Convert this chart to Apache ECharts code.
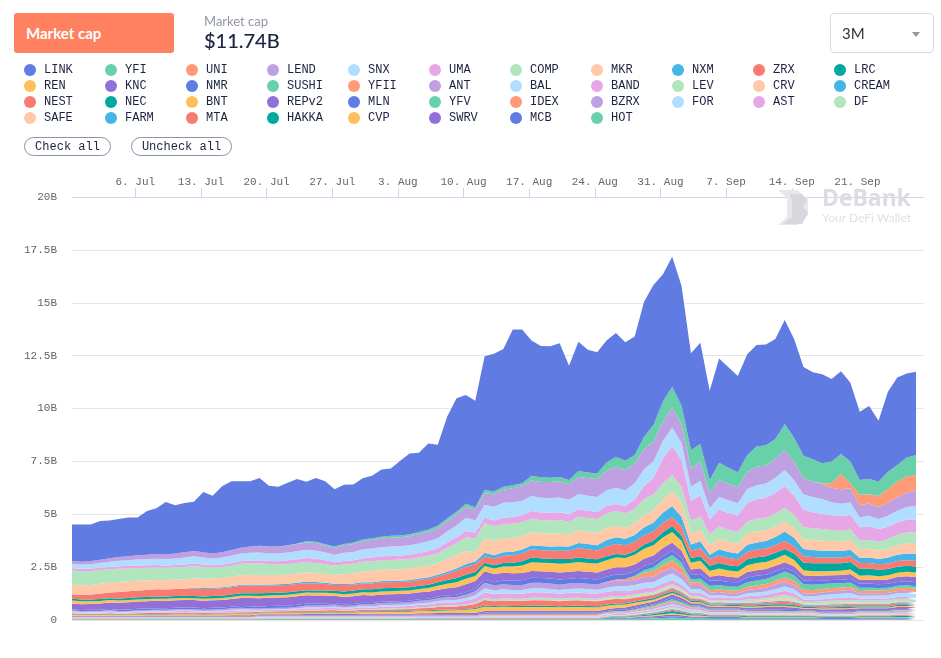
<!DOCTYPE html>
<html>
<head>
<meta charset="utf-8">
<title>Market cap</title>
<script src="https://cdn.jsdelivr.net/npm/echarts@6/dist/echarts.min.js"></script>
<style>
body { margin: 0; background: #fff; font-family: Lato, sans-serif; }
#showChart { position: absolute; left: 0; top: 0; width: 941px; height: 658px; }
.tab { position: absolute; left: 14px; top: 13px; width: 148px; height: 40px; padding-left: 12px; line-height: 40px; background: #ff8160; border-radius: 3px; color: #fff; font-weight: 700; font-size: 15px; }
.capTitle { position: absolute; left: 204px; top: 13px; font-size: 13px; color: #8f96a8; }
.capValue { position: absolute; left: 204px; top: 28px; font-size: 20px; color: #1c2340; -webkit-text-stroke: 0.2px #1c2340; }
.range { position: absolute; left: 830px; top: 13px; width: 102px; height: 38px; border: 1px solid #d8dbe0; border-radius: 4px; line-height: 38px; font-size: 15px; color: #333; text-indent: 11px; }
.range i { position: absolute; left: 81px; top: 18px; border: 4px solid transparent; border-top: 5px solid #9096a6; border-bottom: 0; }
.btn { position: absolute; top: 137px; height: 17px; border: 1px solid #8c93a8; border-radius: 10px; font: 12px/19px "Liberation Mono", monospace; color: #1c2340; text-align: center; }
</style>
</head>
<body>
<div id="showChart"></div>
<div class="tab">Market cap</div>
<div class="capTitle">Market cap</div>
<div class="capValue">$11.74B</div>
<div class="range">3M<i></i></div>
<div class="btn" style="left:24px;width:85px">Check all</div>
<div class="btn" style="left:131px;width:99px">Uncheck all</div>
<script>
// values are in hundredths of a billion dollars, one per day from 29 Jun
var LINK = [173,176,172,183,178,180,183,179,206,216,248,228,233,233,285,273,312,325,314,308,320,288,283,295,305,282,301,298,271,281,275,289,296,318,318,353,382,375,406,383,481,536,514,504,632,652,651,737,728,640,620,621,632,540,612,581,573,577,585,560,560,638,662,602,615,566,457,479,422,492,475,456,476,480,477,473,491,467,419,411,421,389,391,373,323,344,288,378,413,398,394];
var YFI = [0,0,0,0,0,0,0,0,0,0,0,0,0,0,0,0,0,0,0,0,1,1,1,2,3,5,6,6,6,6,7,8,8,9,9,9,9,10,11,12,12,13,14,14,15,14,14,14,14,22,22,21,21,20,28,26,26,39,47,45,40,58,79,95,98,88,87,84,60,82,76,71,79,95,95,95,123,113,106,105,95,103,95,102,70,74,68,82,78,90,95];
var UNI = [0,0,0,0,0,0,0,0,0,0,0,0,0,0,0,0,0,0,0,0,0,0,0,0,0,0,0,0,0,0,0,0,0,0,0,0,0,0,0,0,0,0,0,0,0,0,0,0,0,0,0,0,0,0,0,0,0,0,0,0,0,0,0,0,0,0,0,0,0,0,0,0,0,0,0,0,0,0,0,0,3,22,72,24,49,43,52,66,74,76,74];
var LEND = [14,14,15,16,17,18,19,20,21,22,22,23,24,25,24,24,25,27,28,30,31,31,32,33,34,35,35,33,32,35,37,39,40,41,42,42,43,44,45,47,50,52,52,47,55,58,62,66,68,74,75,75,76,74,80,84,86,93,100,96,94,96,92,92,95,88,87,90,74,80,78,75,82,88,86,88,95,88,78,74,71,68,68,67,58,58,57,60,64,68,72];
var SNX = [20,20,21,22,24,26,27,28,29,30,30,31,33,34,33,32,33,35,36,37,37,36,36,37,38,39,39,37,36,39,40,42,43,43,44,44,44,45,46,47,52,56,62,60,60,64,70,70,69,71,70,70,70,68,72,71,70,75,76,74,76,80,78,82,87,80,66,69,52,60,60,58,65,66,67,71,76,72,71,71,71,62,60,58,47,50,47,52,56,60,63];
var UMA = [11,11,11,11,11,12,12,12,12,12,11,11,12,12,12,11,11,12,12,13,14,14,15,17,18,20,20,18,15,16,16,16,17,18,19,19,20,21,22,24,26,28,31,27,27,28,30,32,33,35,36,36,36,35,36,34,34,34,32,34,44,62,80,118,137,128,96,99,71,80,80,78,88,92,94,98,102,94,82,76,71,70,68,70,63,63,60,58,58,60,61];
var COMP = [68,67,66,65,63,62,61,60,60,59,59,58,58,58,56,52,52,53,54,54,55,52,50,50,49,48,47,46,45,47,46,47,47,46,46,46,46,46,47,47,52,57,66,65,71,70,68,67,66,65,62,63,64,60,64,65,65,70,71,68,70,76,74,76,79,75,59,63,50,58,56,54,58,60,60,62,66,60,58,56,55,52,50,50,39,42,41,46,50,53,55];
var MKR = [44,45,46,47,47,48,47,46,45,44,44,44,44,44,44,43,44,44,45,46,46,45,44,44,44,43,43,42,42,46,48,51,52,53,54,54,54,54,55,55,60,62,60,43,69,67,66,65,63,61,60,60,60,58,60,58,58,56,55,52,54,56,58,62,68,66,52,55,47,50,49,48,52,52,50,49,47,46,46,47,47,46,46,46,43,42,40,42,44,46,47];
var NXM = [0,0,0,0,0,0,0,0,0,0,0,0,0,4,5,5,5,5,5,5,5,5,5,5,6,8,7,6,5,5,5,5,6,6,6,6,7,7,7,8,9,11,13,14,17,15,16,17,18,20,20,20,21,20,24,24,25,30,32,30,32,38,42,48,52,46,28,33,20,30,28,27,33,34,36,38,44,40,34,33,32,31,30,30,24,26,25,28,30,32,33];
var ZRX = [22,22,23,25,27,30,32,33,33,34,34,34,34,35,35,35,35,35,36,36,36,35,35,35,34,33,33,30,28,30,28,28,28,28,27,27,27,27,28,28,30,34,38,36,30,32,34,35,37,39,38,38,40,38,44,44,42,46,47,45,45,44,44,44,43,42,36,37,32,35,34,33,36,36,36,37,38,35,31,30,28,28,28,28,28,27,26,26,27,27,27];
var LRC = [8,8,8,9,9,10,10,10,10,10,10,10,11,11,11,11,11,11,11,12,12,12,12,12,12,11,11,11,11,13,14,14,15,15,15,15,15,15,16,16,18,20,19,19,16,16,17,18,20,22,21,21,22,21,22,21,20,19,16,16,17,20,22,25,28,26,22,22,24,26,25,25,28,28,28,28,28,30,36,38,38,36,35,35,32,32,31,30,29,28,28];
var REN = [14,14,13,12,11,11,10,10,10,10,10,10,10,9,9,9,10,10,11,11,11,11,11,12,12,13,13,13,12,13,13,13,14,14,14,15,15,16,17,19,21,24,26,24,25,26,30,32,36,41,40,41,42,40,42,42,42,44,47,44,45,47,48,50,50,46,32,35,27,32,30,28,32,34,33,34,35,30,24,22,20,20,20,21,20,19,18,19,20,21,22];
var KNC = [28,28,28,30,31,33,34,34,35,35,35,35,35,35,35,35,35,36,38,39,40,39,39,40,40,39,39,37,35,36,36,36,36,35,35,34,34,33,33,32,34,36,38,36,40,38,36,35,34,32,32,32,33,33,33,33,33,34,34,33,34,35,36,38,39,36,26,28,20,24,24,23,26,26,27,27,26,25,24,24,24,23,23,24,18,20,20,21,23,24,25];
var NMR = [5,5,5,5,6,6,7,7,7,7,7,7,7,8,8,8,8,8,8,9,9,9,9,9,9,9,9,8,7,7,7,6,6,6,6,7,7,7,8,8,9,10,12,12,14,15,18,20,22,24,23,23,24,22,24,24,24,24,24,22,20,20,20,20,20,20,20,22,24,22,22,21,22,22,20,19,18,18,18,17,16,16,16,17,18,19,18,18,18,19,19];
var SUSHI = [0,0,0,0,0,0,0,0,0,0,0,0,0,0,0,0,0,0,0,0,0,0,0,0,0,0,0,0,0,0,0,0,0,0,0,0,0,0,0,0,0,0,0,0,0,0,0,0,0,0,0,0,0,0,0,0,0,0,0,0,6,12,18,22,24,22,14,16,20,20,18,18,22,24,24,24,28,26,26,25,24,22,22,20,16,14,12,12,11,11,11];
var YFII = [0,0,0,0,0,0,0,0,0,0,0,0,0,0,0,0,0,0,0,0,0,0,0,0,0,0,0,0,0,0,0,0,0,0,0,0,0,0,0,0,0,0,0,0,0,0,0,0,0,0,0,0,0,0,0,0,0,2,6,8,12,20,26,30,35,30,14,14,11,13,13,13,15,16,17,18,19,19,18,17,16,15,14,14,11,12,12,13,14,15,16];
var ANT = [4,4,4,4,5,4,4,5,5,5,5,6,6,6,5,6,6,7,7,7,5,6,6,6,7,9,9,9,10,8,9,10,10,10,10,10,11,12,12,13,14,14,16,19,26,24,24,24,24,26,26,26,25,26,26,25,25,26,26,27,26,27,26,28,28,26,18,18,13,14,13,13,16,17,18,21,24,21,13,13,13,14,14,15,11,11,11,11,11,10,9];
var BAL = [3,3,3,3,3,3,3,3,3,4,3,4,4,4,3,3,4,4,5,4,3,4,4,4,5,5,5,5,5,5,5,6,6,7,7,7,7,8,8,10,10,11,12,14,19,18,18,18,18,19,19,18,18,18,19,19,18,20,21,22,23,25,25,29,30,27,18,18,11,11,10,10,14,15,16,18,20,18,15,15,19,19,20,20,13,14,14,15,17,19,19];
var BAND = [4,3,4,4,4,3,4,4,4,5,5,5,5,5,5,5,5,6,6,6,5,5,5,5,6,7,7,8,8,7,7,8,8,9,10,10,10,11,12,14,15,15,17,20,26,24,25,24,24,26,26,25,24,25,25,25,25,24,24,24,22,22,20,20,20,18,14,15,13,13,12,12,15,16,17,18,20,18,11,11,11,12,12,13,10,10,10,10,10,9,8];
var LEV = [2,2,2,2,2,2,2,2,2,2,2,2,2,2,2,2,2,2,3,2,2,2,2,2,3,3,3,3,3,3,3,3,3,4,4,4,4,4,4,5,5,5,6,7,10,9,9,9,9,10,10,10,9,10,10,10,9,10,10,10,9,9,8,9,9,8,6,6,5,5,5,5,8,8,9,11,14,12,8,8,10,11,11,12,10,10,10,10,10,11,11];
var CRV = [0,0,0,0,0,0,0,0,0,0,0,0,0,0,0,0,0,0,0,0,0,0,0,0,0,0,0,0,0,0,0,0,0,0,0,0,0,0,0,0,0,0,0,0,0,0,1,1,1,2,2,2,2,2,2,2,2,3,4,4,5,6,7,8,9,8,6,6,5,5,5,4,7,8,8,11,13,11,5,5,5,6,6,6,5,5,5,5,5,5,5];
var CREAM = [0,0,0,0,0,0,0,0,0,0,0,0,0,0,0,0,0,0,0,0,0,0,0,0,0,0,0,0,0,0,0,0,0,0,0,0,0,0,0,0,0,0,0,0,0,0,0,0,0,0,0,0,0,0,0,0,0,1,1,1,2,3,3,4,5,4,4,4,5,5,5,5,5,5,5,5,5,5,5,5,5,5,5,5,5,5,5,5,5,5,5];
var NEST = [5,4,4,4,5,4,4,5,5,5,5,5,6,5,5,5,5,6,6,6,5,5,6,6,6,7,7,7,8,6,7,8,7,9,9,9,10,11,11,13,14,14,16,19,26,23,24,24,24,25,25,25,24,25,25,24,24,22,21,19,17,15,13,12,11,10,8,8,6,6,6,6,8,8,8,10,11,10,6,6,8,9,9,10,8,8,8,8,8,8,6];
var NEC = [2,2,2,2,2,2,2,2,2,2,2,2,2,2,2,2,2,2,3,3,2,2,2,2,3,3,3,3,3,3,3,3,3,3,3,3,3,3,4,4,4,4,4,5,6,5,5,5,5,6,6,6,5,6,6,6,5,6,6,6,6,7,7,8,8,7,6,6,5,5,5,5,6,6,6,7,8,7,5,5,5,5,5,5,5,5,5,5,5,5,5];
var BNT = [5,4,4,4,5,4,4,5,5,5,5,6,6,6,5,6,6,6,6,6,5,6,6,6,6,7,6,7,7,6,7,8,7,8,8,9,9,10,10,11,12,13,15,18,20,19,20,19,19,18,18,18,18,18,18,17,17,16,15,14,13,11,10,9,8,7,6,6,5,5,4,4,5,5,5,6,6,5,4,4,4,4,5,5,4,4,4,4,4,4,4];
var REPv2 = [3,3,3,3,3,3,3,3,3,3,3,3,3,3,3,3,3,4,4,4,3,3,3,3,3,4,4,5,5,4,4,5,5,5,5,5,5,6,6,6,6,6,6,7,8,7,8,7,7,8,8,8,7,8,8,8,8,8,9,10,11,11,11,13,14,13,10,10,8,9,8,8,10,11,12,12,13,12,8,8,10,11,11,12,9,9,9,9,10,10,8];
var MLN = [2,2,2,2,2,2,2,2,3,3,3,3,3,3,3,3,3,3,3,3,3,3,3,3,3,3,3,3,3,3,3,4,4,4,4,4,4,4,4,5,5,5,5,5,5,5,5,5,5,6,6,5,5,5,6,5,5,5,5,6,6,6,5,6,8,7,4,4,4,4,4,4,4,4,5,5,6,5,3,3,4,4,4,4,4,4,4,4,4,4,4];
var YFV = [0,0,0,0,0,0,0,0,0,0,0,0,0,0,0,0,0,0,0,0,0,0,0,0,0,0,0,0,0,0,0,0,0,0,0,0,0,0,0,0,0,0,0,0,2,2,2,2,2,2,2,2,2,2,2,2,2,2,3,3,4,5,6,7,8,7,5,5,4,4,4,4,3,3,3,3,3,3,3,3,2,2,2,2,3,3,3,3,3,3,3];
var IDEX = [2,2,2,2,2,2,2,2,2,2,2,2,2,2,2,2,2,2,2,2,3,3,3,3,3,3,3,3,3,3,3,3,3,3,3,3,3,3,3,3,3,3,3,3,4,4,4,4,4,4,4,4,4,4,4,4,4,4,4,4,4,5,5,6,6,6,4,4,3,3,3,3,3,3,3,3,3,3,3,3,2,2,2,2,3,3,3,3,4,4,4];
var BZRX = [1,1,1,1,1,1,1,1,1,1,1,1,1,1,1,1,1,1,1,1,3,3,3,3,3,3,3,3,3,3,3,3,3,3,3,3,3,3,3,3,3,3,3,3,3,3,3,3,3,3,3,3,3,3,3,3,3,3,4,4,4,5,6,7,8,7,6,6,5,5,5,5,4,4,4,4,4,4,4,4,4,4,4,4,4,4,4,4,5,5,5];
var FOR = [2,2,2,2,2,2,2,2,2,2,2,2,2,2,2,2,2,2,2,2,3,3,3,3,3,3,3,3,3,3,3,3,3,3,3,3,3,3,3,3,3,3,3,3,4,4,4,4,4,4,4,4,4,4,4,4,4,4,4,4,4,4,5,5,6,5,4,4,3,3,3,3,3,3,3,3,2,2,2,2,2,2,2,2,2,2,2,2,3,3,3];
var AST = [2,2,2,2,2,2,2,2,2,2,2,2,2,2,2,2,2,2,2,2,3,3,3,3,3,3,3,3,3,3,3,3,3,3,3,3,3,3,3,3,3,3,3,3,4,4,4,4,4,4,4,4,4,4,4,4,4,4,4,4,5,5,6,7,8,7,5,5,4,4,4,4,3,3,3,3,3,3,3,3,3,3,3,3,3,3,3,3,3,3,3];
var DF = [2,2,2,2,2,2,2,2,2,2,2,2,2,2,2,2,2,2,2,2,2,2,2,2,2,2,2,2,2,2,2,2,2,2,2,2,2,2,2,2,2,2,2,2,3,3,3,3,3,3,3,3,3,3,3,3,3,3,3,3,3,4,4,5,6,5,4,4,3,3,3,3,3,3,3,3,2,2,2,2,2,2,2,2,2,2,2,2,3,3,3];
var SAFE = [0,0,0,0,0,0,0,0,0,0,0,0,0,0,0,0,0,0,0,0,0,0,0,0,0,0,0,0,0,0,0,0,0,0,0,0,0,0,0,0,0,0,0,0,0,0,0,0,0,0,0,0,0,0,0,0,0,1,1,1,2,2,3,3,4,3,3,3,2,2,2,2,2,2,2,2,2,2,2,2,2,2,2,2,2,2,2,2,2,2,2];
var FARM = [0,0,0,0,0,0,0,0,0,0,0,0,0,0,0,0,0,0,0,0,0,0,0,0,0,0,0,0,0,0,0,0,0,0,0,0,0,0,0,0,0,0,0,0,1,1,1,1,1,1,1,1,1,1,1,1,1,2,2,2,2,3,3,4,4,4,3,3,2,2,2,2,2,2,2,2,2,2,2,2,1,1,1,1,2,2,2,2,2,2,2];
var MTA = [2,2,2,2,2,2,2,2,2,2,2,2,2,2,2,2,2,2,2,2,2,2,2,2,2,2,2,2,2,2,2,2,2,2,2,2,2,2,2,2,2,2,2,2,2,2,2,2,2,2,2,2,2,2,2,2,2,2,3,3,3,4,4,5,6,5,4,4,3,3,3,3,3,3,3,3,3,3,3,3,3,3,3,3,3,3,3,3,4,4,4];
var HAKKA = [0,0,0,0,0,0,0,0,0,0,0,0,0,0,0,0,0,0,0,0,0,0,0,0,0,0,0,0,0,0,0,0,0,0,0,0,0,0,0,0,0,0,0,0,0,0,0,0,0,0,0,0,0,0,0,0,0,2,3,3,4,5,6,8,10,9,6,5,4,4,4,4,5,5,5,5,5,5,5,5,4,4,4,4,5,5,5,5,6,6,6];
var CVP = [0,0,0,0,0,0,0,0,0,0,0,0,0,0,0,0,0,0,0,0,0,0,0,0,0,0,0,0,0,0,0,0,0,0,0,0,0,0,0,0,0,0,0,0,1,1,1,1,1,1,1,1,1,1,1,1,1,2,2,2,3,3,4,5,6,5,4,4,3,3,3,3,2,2,2,2,2,2,2,2,2,2,2,2,2,2,2,2,2,2,2];
var SWRV = [0,0,0,0,0,0,0,0,0,0,0,0,0,0,0,0,0,0,0,0,0,0,0,0,0,0,0,0,0,0,0,0,0,0,0,0,0,0,0,0,0,0,0,0,0,0,0,0,0,0,0,0,0,0,0,0,0,2,3,3,4,5,6,7,8,7,6,6,5,5,5,5,4,4,4,4,4,4,4,4,4,4,4,4,5,5,5,5,5,5,5];
var MCB = [1,1,1,1,1,1,1,1,1,1,1,1,1,1,1,1,1,1,1,1,1,1,1,1,1,1,1,1,1,1,1,1,1,1,1,1,1,2,2,2,2,2,2,2,2,2,2,2,2,2,2,2,2,2,2,2,2,2,2,2,3,4,4,5,6,5,4,4,3,3,3,3,2,2,2,2,2,2,2,2,2,2,2,2,2,2,2,2,2,2,2];
var HOT = [3,3,3,3,3,3,3,3,3,3,3,3,3,3,3,3,3,3,3,3,4,4,4,4,4,4,4,4,4,4,4,4,4,4,4,4,4,4,4,4,4,4,4,4,4,4,4,4,4,4,4,4,4,4,4,4,4,5,5,5,6,7,8,10,12,10,7,7,6,6,6,6,5,5,5,5,5,5,5,5,3,3,3,3,4,4,4,4,4,4,4];

var tokens = [
    ['LINK', LINK], ['YFI', YFI], ['UNI', UNI], ['LEND', LEND], ['SNX', SNX], ['UMA', UMA], ['COMP', COMP], ['MKR', MKR],
    ['NXM', NXM], ['ZRX', ZRX], ['LRC', LRC], ['REN', REN], ['KNC', KNC], ['NMR', NMR], ['SUSHI', SUSHI], ['YFII', YFII],
    ['ANT', ANT], ['BAL', BAL], ['BAND', BAND], ['LEV', LEV], ['CRV', CRV], ['CREAM', CREAM], ['NEST', NEST], ['NEC', NEC],
    ['BNT', BNT], ['REPv2', REPv2], ['MLN', MLN], ['YFV', YFV], ['IDEX', IDEX], ['BZRX', BZRX], ['FOR', FOR], ['AST', AST],
    ['DF', DF], ['SAFE', SAFE], ['FARM', FARM], ['MTA', MTA], ['HAKKA', HAKKA], ['CVP', CVP], ['SWRV', SWRV], ['MCB', MCB], ['HOT', HOT]
];
var colors = ['#607be1', '#68d1a9', '#ff9a76', '#bfa1e3', '#b1defe', '#e7a7e7', '#b1e5bd', '#ffc9a9', '#45b4e9', '#f87a70', '#00a99f', '#ffc05b', '#9370d8'];

// the daily readings fall a quarter of a day into 29 Jun
var DAY = 86400000;
var firstTime = Date.UTC(2020, 5, 29, 6);
var lastTime = firstTime + 90.85 * DAY;

// the labelled axis runs in days counted from 29 Jun
var firstDay = 0.25;
var lastDay = 91.1;
var xTickDays = [7, 14, 21, 28, 35, 42, 49, 56, 63, 70, 77, 84];
var xTickLabels = ['6. Jul', '13. Jul', '20. Jul', '27. Jul', '3. Aug', '10. Aug', '17. Aug', '24. Aug', '31. Aug', '7. Sep', '14. Sep', '21. Sep'];
var yTickLabels = ['0', '2.5B', '5B', '7.5B', '10B', '12.5B', '15B', '17.5B', '20B'];

var monoFont = '"Liberation Mono", monospace';

// legend is eleven columns, four rows
var legends = [];
for (var c = 0; c < 11; c++) {
    var col = [];
    for (var r = 0; r < 4; r++) {
        if (tokens[c + r * 11]) col.push(tokens[c + r * 11][0]);
    }
    legends.push({
        orient: 'vertical',
        left: 24 + c * 81,
        top: 64,
        icon: 'circle',
        itemWidth: 12,
        itemHeight: 12,
        itemGap: 4,
        padding: 0,
        selectedMode: false,
        textStyle: {fontFamily: monoFont, fontSize: 12, color: '#1c2340', padding: [0, 0, 0, 3]},
        data: col
    });
}

// first token sits on top of the stack, so it has to be added last
var series = tokens.map(function (t, i) {
    return {
        name: t[0],
        type: 'line',
        stack: 'cap',
        symbol: 'none',
        lineStyle: {width: 0},
        itemStyle: {color: colors[i % colors.length]},
        areaStyle: {color: colors[i % colors.length], opacity: 1},
        data: t[1].map(function (v, d) { return [firstTime + d * DAY, v]; })
    };
}).reverse();

var option1 = {
    animation: false,
    legend: legends,
    grid: {left: 72, right: 17, top: 197, bottom: 38},
    xAxis: [
        {type: 'time', show: false, min: firstTime, max: lastTime},
        {
            type: 'value',
            min: firstDay,
            max: lastDay,
            axisLine: {lineStyle: {color: '#ccd6eb'}},
            axisTick: {length: 9, lineStyle: {color: '#ccd6eb'}, customValues: xTickDays},
            axisLabel: {
                customValues: xTickDays,
                fontFamily: monoFont,
                fontSize: 11,
                color: '#666',
                margin: 9,
                formatter: function (v) { return xTickLabels[xTickDays.indexOf(v)]; }
            },
            splitLine: {show: false}
        }
    ],
    yAxis: {
        type: 'value',
        min: 0,
        max: 2000,
        interval: 250,
        axisLine: {show: false},
        axisTick: {show: false},
        axisLabel: {
            fontFamily: monoFont,
            fontSize: 11,
            color: '#666',
            margin: 15,
            formatter: function (v) { return yTickLabels[v / 250]; }
        },
        splitLine: {lineStyle: {color: '#e6e6e6'}}
    },
    graphic: [
        {type: 'polygon', z: 10, shape: {points: [[778, 190], [797, 190], [808, 199], [808, 215], [797, 225], [778, 225], [787, 217], [787, 198]]}, style: {fill: '#e6e7ea'}},
        {type: 'polygon', z: 11, shape: {points: [[790, 194], [802, 194], [807, 200], [803, 207], [808, 213], [802, 224], [783, 224], [792, 217], [792, 201]]}, style: {fill: '#d6d8dd'}},
        {type: 'text', z: 11, left: 822, top: 188, style: {text: 'DeBank', fill: '#dcdde2', font: 'bold 23px "Noto Sans", sans-serif'}},
        {type: 'text', z: 11, left: 822, top: 212, style: {text: 'Your DeFi Wallet', fill: '#e0e1e5', font: '12px Lato, sans-serif'}}
    ],
    series: series
};

var chartOutChar = echarts.init(document.getElementById('showChart'));
chartOutChar.setOption(option1);
</script>
</body>
</html>
